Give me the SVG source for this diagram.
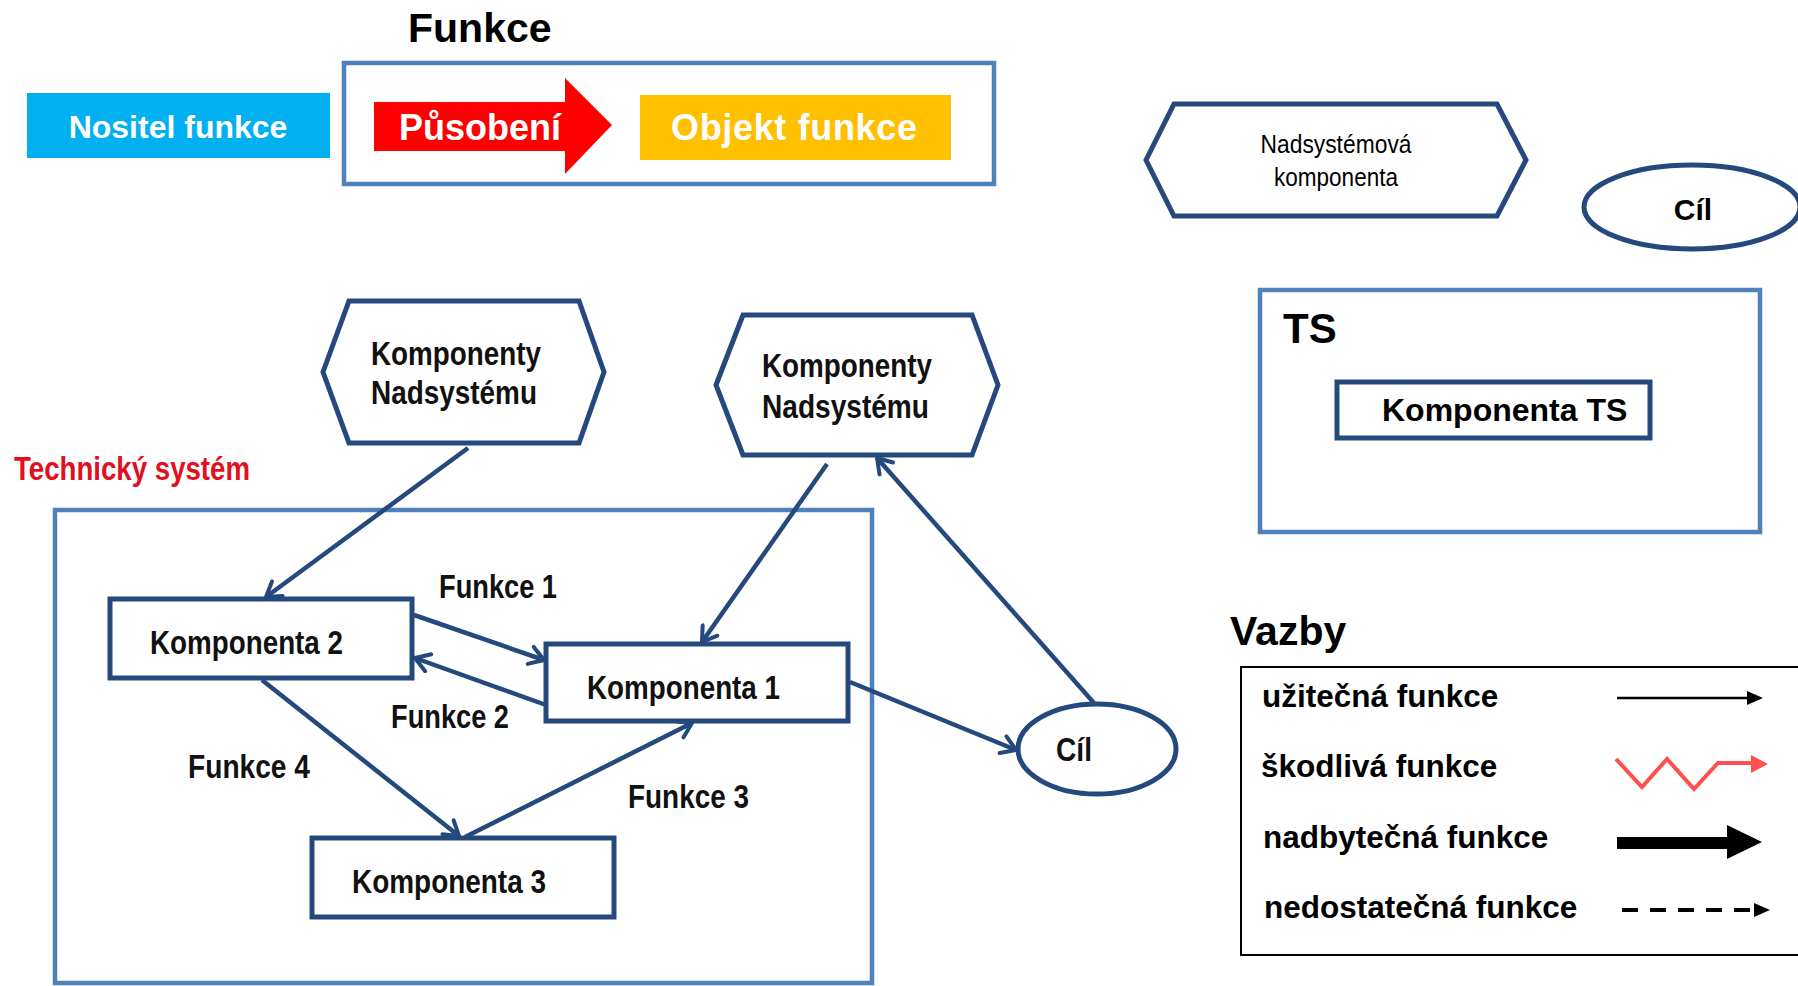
<svg xmlns="http://www.w3.org/2000/svg" width="1798" height="986" viewBox="0 0 1798 986">
  <style>
    .bold { font-family: 'Liberation Sans', Arial, sans-serif; font-weight: bold; }
    .reg { font-family: 'Liberation Sans', Arial, sans-serif; }
    .narrow { font-family: 'Liberation Sans Narrow', 'Liberation Sans', Arial, sans-serif; font-weight: bold; font-size: 33px; fill: #111; }
    .white { fill: #ffffff; }
    .frame { fill: none; stroke: #4F81BD; stroke-width: 4.5; }
    .node { fill: #ffffff; stroke: #24497D; stroke-width: 5; }
    .conn { fill: none; stroke: #24497D; stroke-width: 4.5; marker-end: url(#vee); }
  </style>
  <defs>
    <marker id="vee" viewBox="0 0 22 22" refX="17" refY="11" markerWidth="22" markerHeight="22" markerUnits="userSpaceOnUse" orient="auto">
      <path d="M3,2 L17,11 L3,20" fill="none" stroke="#24497D" stroke-width="4" stroke-linecap="round" stroke-linejoin="round"/>
    </marker>
  </defs>
  <rect width="1798" height="986" fill="#ffffff"/>

  <!-- Function definition block -->
  <g id="funkce-header">
    <text class="bold" x="408" y="42" font-size="41">Funkce</text>
    <rect class="frame" x="344" y="63" width="650" height="121"/>
  </g>
  <g id="nositel-funkce">
    <rect x="27" y="93" width="303" height="65" fill="#00B0F0"/>
    <text class="bold white" x="178" y="138" font-size="32" text-anchor="middle">Nositel funkce</text>
  </g>
  <g id="pusobeni">
    <polygon points="374,102 565,102 565,78 612,125 565,174 565,151 374,151" fill="#FF0000"/>
    <text class="bold white" x="399" y="140" font-size="36">Působení</text>
  </g>
  <g id="objekt-funkce">
    <rect x="640" y="95" width="311" height="65" fill="#FFC000"/>
    <text class="bold white" x="671" y="140" font-size="36" textLength="246">Objekt funkce</text>
  </g>

  <!-- Key shapes -->
  <g id="nadsystemova-komponenta">
    <polygon class="node" points="1146,160 1174,104 1497,104 1526,160 1497,216 1174,216" stroke-width="4.5"/>
    <text class="reg" x="1336" y="153" font-size="25" text-anchor="middle" textLength="151" lengthAdjust="spacingAndGlyphs">Nadsystémová</text>
    <text class="reg" x="1336" y="186" font-size="25" text-anchor="middle" textLength="124" lengthAdjust="spacingAndGlyphs">komponenta</text>
  </g>
  <g id="cil-key">
    <ellipse class="node" cx="1692" cy="207" rx="108" ry="42" stroke-width="4.5"/>
    <text class="bold" x="1693" y="220" font-size="30" text-anchor="middle">Cíl</text>
  </g>
  <g id="ts-key">
    <rect class="frame" x="1260" y="290" width="500" height="242"/>
    <text class="bold" x="1283" y="343" font-size="42">TS</text>
    <rect class="node" x="1337" y="382" width="313" height="56"/>
    <text class="bold" x="1382" y="421" font-size="32">Komponenta TS</text>
  </g>

  <!-- Legend of link types -->
  <g id="vazby">
    <text class="bold" x="1230" y="645" font-size="41">Vazby</text>
    <rect x="1241" y="667" width="600" height="288" fill="none" stroke="#000000" stroke-width="2"/>
    <text class="bold" x="1262" y="707" font-size="31.5">užitečná funkce</text>
    <text class="bold" x="1261" y="777" font-size="31.5">škodlivá funkce</text>
    <text class="bold" x="1263" y="848" font-size="31.5">nadbytečná funkce</text>
    <text class="bold" x="1264" y="918" font-size="31.5">nedostatečná funkce</text>
    <line x1="1617" y1="698" x2="1749" y2="698" stroke="#000000" stroke-width="2.5"/>
    <polygon points="1747,691 1763,698 1747,705" fill="#000000"/>
    <polyline points="1616,759 1642,787 1667,759 1694,789 1718,763 1753,763" fill="none" stroke="#FF5050" stroke-width="4"/>
    <polygon points="1751,755 1768,764 1751,773" fill="#FF5050"/>
    <polygon points="1617,837 1727,837 1727,825 1762,842 1727,859 1727,849 1617,849" fill="#000000"/>
    <line x1="1622" y1="910" x2="1752" y2="910" stroke="#000000" stroke-width="4" stroke-dasharray="16 12"/>
    <polygon points="1754,903 1770,910 1754,917" fill="#000000"/>
  </g>

  <!-- Technical system model -->
  <g id="technicky-system">
    <text class="narrow" x="14" y="480" style="fill:#E2101E" font-size="34" textLength="236" lengthAdjust="spacingAndGlyphs">Technický systém</text>
    <rect class="frame" x="55" y="510" width="817" height="473"/>
  </g>
  <g id="komponenty-nadsystemu-1">
    <polygon class="node" points="323,372 349,301 579,301 604,372 579,443 349,443"/>
    <text class="narrow" x="371" y="365" textLength="170" lengthAdjust="spacingAndGlyphs">Komponenty</text>
    <text class="narrow" x="371" y="404" textLength="166" lengthAdjust="spacingAndGlyphs">Nadsystému</text>
  </g>
  <g id="komponenty-nadsystemu-2">
    <polygon class="node" points="716,385 743,315 972,315 998,385 972,455 743,455"/>
    <text class="narrow" x="762" y="377" textLength="170" lengthAdjust="spacingAndGlyphs">Komponenty</text>
    <text class="narrow" x="762" y="418" textLength="167" lengthAdjust="spacingAndGlyphs">Nadsystému</text>
  </g>
  <g id="komponenta-2">
    <rect class="node" x="110" y="599" width="302" height="79"/>
    <text class="narrow" x="150" y="654" textLength="193" lengthAdjust="spacingAndGlyphs">Komponenta 2</text>
  </g>
  <g id="komponenta-1">
    <rect class="node" x="546" y="644" width="302" height="77"/>
    <text class="narrow" x="587" y="699" textLength="193" lengthAdjust="spacingAndGlyphs">Komponenta 1</text>
  </g>
  <g id="komponenta-3">
    <rect class="node" x="312" y="838" width="302" height="79"/>
    <text class="narrow" x="352" y="893" textLength="194" lengthAdjust="spacingAndGlyphs">Komponenta 3</text>
  </g>
  <g id="cil">
    <ellipse class="node" cx="1097" cy="749" rx="79" ry="45"/>
    <text class="narrow" x="1056" y="761" textLength="36" lengthAdjust="spacingAndGlyphs">Cíl</text>
  </g>

  <!-- Connectors -->
  <g id="connectors">
    <line class="conn" x1="468" y1="448" x2="266" y2="597"/>
    <line class="conn" x1="827" y1="464" x2="702" y2="642"/>
    <line class="conn" x1="414" y1="615" x2="544" y2="660"/>
    <line class="conn" x1="546" y1="705" x2="415" y2="658"/>
    <line class="conn" x1="262" y1="680" x2="459" y2="836"/>
    <line class="conn" x1="465" y1="837" x2="692" y2="723"/>
    <line class="conn" x1="850" y1="682" x2="1016" y2="750"/>
    <line class="conn" x1="1094" y1="703" x2="877" y2="458"/>
  </g>

  <!-- Connector labels -->
  <g id="labels">
    <text class="narrow" x="439" y="598" textLength="118" lengthAdjust="spacingAndGlyphs">Funkce 1</text>
    <text class="narrow" x="391" y="728" textLength="118" lengthAdjust="spacingAndGlyphs">Funkce 2</text>
    <text class="narrow" x="188" y="778" textLength="122" lengthAdjust="spacingAndGlyphs">Funkce 4</text>
    <text class="narrow" x="628" y="808" textLength="121" lengthAdjust="spacingAndGlyphs">Funkce 3</text>
  </g>
</svg>
